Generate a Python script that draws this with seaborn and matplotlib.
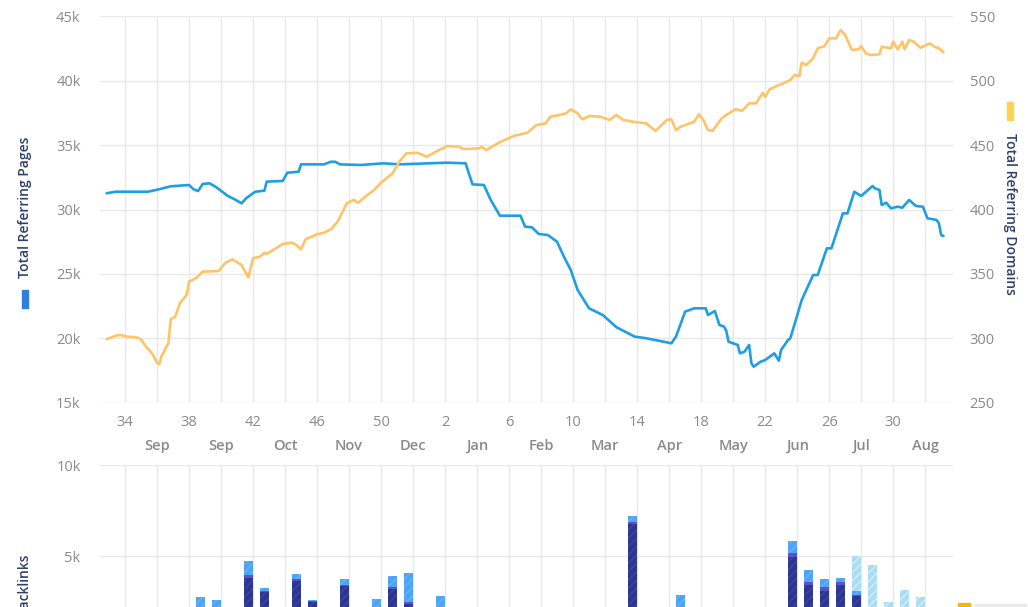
import matplotlib
matplotlib.use("Agg")
import pandas as pd
import seaborn as sns
import matplotlib.pyplot as plt
from matplotlib.ticker import FixedLocator, FixedFormatter, FuncFormatter
from matplotlib.patches import Rectangle

# x values are days counted from the start of week 34
pages_day = [-8, -4, 10, 15, 20, 28, 30, 32, 34, 37, 40, 45, 48, 51, 53, 57, 61, 62, 69, 71,
             76, 77, 87, 90, 92, 94, 103, 113, 120, 141, 149, 152, 157, 160, 164, 173, 175, 178,
             181, 185, 189, 192, 195, 198, 203, 209, 215, 223, 228, 239, 241, 245, 249, 254,
             255, 258, 260, 262, 263, 264, 268, 269, 271, 273, 274, 275, 278, 280, 284, 286,
             287, 290, 291, 293, 296, 301, 303, 307, 309, 314, 316, 319, 322, 327, 328, 330,
             331, 333, 335, 338, 340, 343, 346, 349, 351, 355, 356, 357, 358]
pages = [31260, 31380, 31380, 31570, 31800, 31900, 31570, 31430, 31980, 32030, 31720, 31050,
         30790, 30480, 30870, 31380, 31460, 32160, 32210, 32850, 32930, 33500, 33500, 33700,
         33700, 33500, 33450, 33580, 33500, 33630, 33580, 31950, 31900, 30740, 29520, 29520,
         28670, 28620, 28100, 28020, 27500, 26340, 25310, 23760, 22340, 21820, 20870, 20140,
         20020, 19630, 20140, 22080, 22340, 22340, 21820, 22130, 21050, 20920, 20600, 19750,
         19500, 18850, 18980, 19500, 18080, 17810, 18200, 18330, 18850, 18280, 19110, 19880,
         20010, 21180, 22980, 24920, 24920, 26990, 26990, 29700, 29700, 31380, 31050, 31820,
         31640, 31510, 30350, 30530, 30090, 30220, 30140, 30740, 30270, 30220, 29320, 29190,
         28930, 28020, 27950]

domains_day = [-8, -4, -2, 1, 5, 7, 9, 12, 14, 15, 16, 19, 20, 22, 24, 27, 28, 31, 34, 41, 44,
               47, 51, 54, 56, 59, 61, 62, 66, 69, 73, 75, 77, 79, 84, 87, 90, 93, 97, 100, 102,
               106, 109, 112, 117, 120, 123, 128, 132, 136, 141, 146, 148, 155, 156, 158, 163,
               166, 170, 176, 180, 184, 186, 190, 193, 195, 198, 200, 203, 208, 212, 215, 218,
               222, 228, 232, 237, 239, 241, 243, 249, 251, 253, 255, 257, 261, 263, 267, 270,
               273, 276, 279, 280, 282, 286, 288, 291, 293, 295, 296, 298, 301, 303, 306, 308,
               311, 313, 315, 318, 321, 322, 324, 326, 330, 331, 335, 336, 338, 340, 341, 343,
               345, 348, 352, 354, 356, 358]
domains = [299.4, 302.2, 302.7, 301.4, 300.9, 299.4, 294.2, 288.0, 281.2, 280.0, 286.4, 296.3,
           314.9, 316.9, 327.3, 333.7, 344.0, 346.7, 351.8, 352.3, 358.8, 361.4, 357.0, 347.4,
           362.2, 363.4, 366.5, 365.5, 369.9, 373.3, 374.3, 372.5, 369.1, 376.9, 380.8, 382.0,
           384.6, 390.5, 404.8, 407.4, 405.3, 411.2, 415.1, 420.8, 428.0, 437.0, 443.5, 444.0,
           440.9, 444.8, 449.2, 448.7, 446.9, 447.4, 448.7, 446.1, 451.3, 453.9, 457.0, 459.5,
           465.5, 466.8, 471.9, 473.3, 474.6, 477.7, 474.6, 469.9, 472.5, 471.9, 469.4, 473.3,
           469.4, 468.1, 466.8, 460.9, 469.4, 469.9, 461.6, 464.2, 468.1, 473.8, 469.4, 461.6,
           460.9, 470.7, 473.3, 477.7, 476.6, 482.3, 482.3, 490.5, 487.4, 493.2, 496.5, 497.8,
           500.4, 504.3, 503.5, 513.8, 512.0, 517.2, 525.0, 526.7, 532.7, 532.7, 539.1, 535.3,
           523.6, 524.2, 526.7, 521.1, 519.8, 520.3, 526.2, 525.0, 530.1, 524.2, 530.1, 524.2,
           531.4, 530.1, 525.4, 528.8, 526.2, 525.0, 521.9]

week_labels = ["34", "38", "42", "46", "50", "2", "6", "10", "14", "18", "22", "26", "30"]
month_labels = ["Sep", "Sep", "Oct", "Nov", "Dec", "Jan", "Feb", "Mar", "Apr", "May", "Jun",
                "Jul", "Aug"]

# weekly new backlinks (only the part above ~2k is visible in the picture)
bar_week = [4, 5, 7, 8, 10, 11, 13, 15, 16, 17, 19, 31, 34, 41, 42, 43, 44, 45, 46, 47, 48, 49]
bl_dark = [0, 0, 3800, 3000, 3650, 2500, 3350, 0, 3200, 2350, 0, 6750, 0, 4950, 3400, 3100,
           3400, 2800, 0, 0, 0, 0]
bl_purple = [0, 0, 150, 80, 80, 50, 50, 0, 100, 100, 0, 100, 0, 210, 170, 200, 170, 60, 0, 0,
             0, 0]
bl_light = [2750, 2580, 780, 160, 270, 30, 330, 2640, 600, 1620, 2800, 350, 2860, 660, 660,
            430, 230, 220, 0, 0, 0, 0]
bl_pending = [0, 0, 0, 0, 0, 0, 0, 0, 0, 0, 0, 0, 0, 0, 0, 0, 0, 1920, 4500, 2470, 3130,
              2750]

df_pages = pd.DataFrame({"day": pages_day, "value": pages})
df_domains = pd.DataFrame({"day": domains_day, "value": domains})
bars = pd.DataFrame({"day": [w * 7 + 5 for w in bar_week], "dark": bl_dark,
                     "purple": bl_purple, "light": bl_light, "pending": bl_pending})

sns.set_theme(style="white")
plt.rcParams["font.family"] = ["Open Sans", "DejaVu Sans"]
plt.rcParams["hatch.linewidth"] = 1.0

BLUE = "#1f9fe2"
ORANGE = "#ffc468"
GRID = "#e8e8e8"
TICK = "#8a8a8a"
TITLE = "#2f3f6e"

fig = plt.figure(figsize=(10.28, 6.07), dpi=100)
ax = fig.add_axes([0.0973, 0.3361, 0.8298, 0.6375])
ax2 = ax.twinx()

sns.lineplot(data=df_pages, x="day", y="value", ax=ax, color=BLUE, linewidth=1.9,
             estimator=None, legend=False)
sns.lineplot(data=df_domains, x="day", y="value", ax=ax2, color=ORANGE, linewidth=1.9,
             estimator=None, legend=False)

xmin, xmax = -10.9, 362.2
major = list(range(0, 337, 28))
minor = list(range(14, 351, 28))

for a in (ax, ax2):
    a.set_xlim(xmin, xmax)
    a.set_xlabel("")
    a.set_ylabel("")
    for s in a.spines.values():
        s.set_visible(False)

ax.set_ylim(15000, 45000)
ax.set_yticks(range(15000, 45001, 5000))
ax.yaxis.set_major_formatter(FuncFormatter(lambda v, p: f"{int(v / 1000)}k"))
ax2.set_ylim(250, 550)
ax2.set_yticks(range(250, 551, 50))
ax2.grid(False)

ax.xaxis.set_major_locator(FixedLocator(major))
ax.xaxis.set_major_formatter(FixedFormatter(week_labels))
ax.xaxis.set_minor_locator(FixedLocator(minor))
ax.xaxis.set_minor_formatter(FixedFormatter(month_labels))
ax.grid(True, which="both", color=GRID, linewidth=1)
ax.set_axisbelow(True)
ax.tick_params(axis="x", which="both", length=6, width=1, color="#d8d8d8",
               labelcolor=TICK, labelsize=10.5)
ax.tick_params(axis="x", which="major", pad=3)
ax.tick_params(axis="x", which="minor", pad=20)
for t in ax.xaxis.get_minorticklabels():
    t.set_fontweight("semibold")
ax.tick_params(axis="y", length=0, pad=14, labelcolor=TICK, labelsize=10.5)
ax2.tick_params(axis="y", length=0, pad=12, labelcolor=TICK, labelsize=10.5)

# bottom panel, cut off by the figure edge
bx = fig.add_axes([0.0973, -0.0659, 0.8298, 0.2998])
w = 4.2
b0 = bars["dark"]
b1 = b0 + bars["purple"]
b2 = b1 + bars["light"]
bx.bar(bars["day"], bars["dark"], width=w, color="#2e3590", edgecolor="#3d46a3",
       hatch="////", linewidth=0)
bx.bar(bars["day"], bars["purple"], bottom=b0, width=w, color="#5a52c8", linewidth=0)
bx.bar(bars["day"], bars["light"], bottom=b1, width=w, color="#4ea3f5", edgecolor="#67b2f8",
       hatch="////", linewidth=0)
bx.bar(bars["day"], bars["pending"], bottom=b2, width=w, color="#aadcf4", edgecolor="#d3eefa",
       hatch="////", linewidth=0)
bx.set_xlim(xmin, xmax)
bx.set_ylim(0, 10000)
bx.set_yticks([0, 5000, 10000])
bx.yaxis.set_major_formatter(FuncFormatter(lambda v, p: f"{int(v / 1000)}k" if v else ""))
bx.xaxis.set_major_locator(FixedLocator(sorted(major + minor)))
bx.set_xticklabels([])
bx.grid(True, color=GRID, linewidth=1)
bx.set_axisbelow(True)
bx.tick_params(axis="x", length=0)
bx.tick_params(axis="y", length=0, pad=14, labelcolor=TICK, labelsize=10.5)
for s in bx.spines.values():
    s.set_visible(False)

# axis titles with their small colour markers
fig.text(0.0243, 0.659, "Total Referring Pages", rotation=90, ha="center", va="center",
         color=TITLE, fontsize=10, fontweight="semibold")
fig.patches.append(Rectangle((0.0214, 0.4926), 0.0058, 0.0297, color="#2f80dc",
                             transform=fig.transFigure, figure=fig))
fig.text(0.9825, 0.6483, "Total Referring Domains", rotation=270, ha="center", va="center",
         color=TITLE, fontsize=10, fontweight="semibold")
fig.patches.append(Rectangle((0.9796, 0.8023), 0.0058, 0.0297, color="#ffd24f",
                             transform=fig.transFigure, figure=fig))
fig.text(0.0243, 0.0857, "New Backlinks", rotation=90, ha="center", va="top",
         color=TITLE, fontsize=10, fontweight="semibold")
fig.patches.append(Rectangle((0.932, 0.0), 0.0117, 0.0066, color="#f5b800",
                             transform=fig.transFigure, figure=fig))
fig.patches.append(Rectangle((0.948, 0.0), 0.05, 0.005, color="#e9e9e9",
                             transform=fig.transFigure, figure=fig))

fig.savefig("out.png", dpi=100)
